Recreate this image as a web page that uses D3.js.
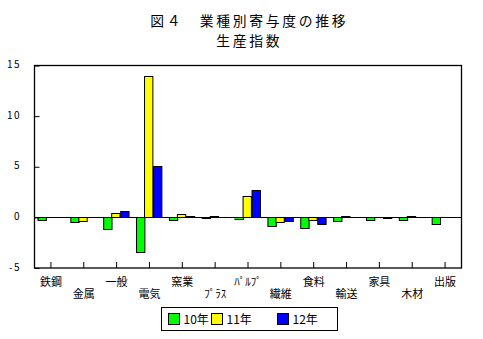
<!DOCTYPE html>
<html>
<head>
<meta charset="utf-8">
<script src="https://cdn.jsdelivr.net/npm/d3@7"></script>
<style>
  html, body { margin: 0; padding: 0; background: #fff; }
  svg { display: block; }
  text { font-family: "Noto Sans CJK JP", "Noto Sans", sans-serif; fill: #000; }
</style>
</head>
<body>
<svg id="chart" width="483" height="339"></svg>
<script>
// 業種別寄与度（生産指数）
const categories = ["鉄鋼", "金属", "一般", "電気", "窯業", "ﾌﾟﾗｽ", "ﾊﾟﾙﾌﾟ", "繊維", "食料", "輸送", "家具", "木材", "出版"];
const seriesNames = ["10年", "11年", "12年"];
const seriesColors = ["#00ff00", "#ffff00", "#0000ff"];
const values10 = [-0.3, -0.5, -1.1, -3.4, -0.3, -0.1, -0.2, -0.9, -1.05, -0.4, -0.3, -0.3, -0.7];
const values11 = [0, -0.35, 0.45, 14.0, 0.3, 0.1, 2.1, -0.5, -0.3, 0.1, 0, 0.1, 0];
const values12 = [0, 0, 0.6, 5.1, 0.1, 0, 2.75, -0.4, -0.7, 0, -0.1, 0, 0];
const yTicks = [-5, 0, 5, 10, 15];
const titleLines = ["図４　業種別寄与度の推移", "生産指数"];

const seriesValues = [values10, values11, values12];

const svg = d3.select("#chart");
const plotLeft = 34.5, plotRight = 461.5, plotTop = 65.5, plotBottom = 268;

const x = d3.scaleBand().domain(categories).range([plotLeft, plotRight]).paddingInner(0).paddingOuter(0);
const groupW = 25;
const x1 = d3.scaleBand().domain(seriesNames)
  .range([(x.bandwidth() - groupW) / 2 - 1, (x.bandwidth() + groupW) / 2 - 1]);
const y = d3.scaleLinear().domain([-5, 15]).range([plotBottom, plotTop]);

// Title (two lines)
svg.append("g").selectAll("text").data(titleLines).join("text")
  .attr("x", 249.3).attr("y", (d, i) => 25.5 + i * 20)
  .attr("text-anchor", "middle")
  .style("font-size", "13.8px")
  .style("letter-spacing", "2.7px")
  .text(d => d);

// Bars
const rows = categories.map((c, i) => ({ cat: c, vals: seriesValues.map(s => s[i]) }));
const groups = svg.append("g").selectAll("g").data(rows).join("g")
  .attr("transform", d => `translate(${x(d.cat)},0)`);
groups.selectAll("rect")
  .data(d => d.vals.map((v, k) => ({ v, k })).filter(e => e.v !== 0))
  .join("rect")
  .attr("x", e => Math.round(x1(seriesNames[e.k])) + 0.5)
  .attr("width", x1.bandwidth())
  .attr("y", e => Math.round(y(Math.max(0, e.v))) + 0.5)
  .attr("height", e => Math.max(0.01, Math.abs(Math.round(y(e.v)) - Math.round(y(0)))))
  .attr("fill", e => seriesColors[e.k])
  .attr("stroke", "#000")
  .attr("stroke-width", 1);

// Frame and zero line
svg.append("rect")
  .attr("x", plotLeft).attr("y", plotTop)
  .attr("width", plotRight - plotLeft).attr("height", plotBottom - plotTop)
  .attr("fill", "none").attr("stroke", "#000").attr("stroke-width", 1.3);
svg.append("line")
  .attr("x1", plotLeft).attr("x2", plotRight)
  .attr("y1", Math.round(y(0)) + 0.5).attr("y2", Math.round(y(0)) + 0.5)
  .attr("stroke", "#000").attr("stroke-width", 1);

// Y axis (ticks pointing inward)
const yAxis = svg.append("g").attr("transform", `translate(${plotLeft},0)`)
  .call(d3.axisRight(y).tickValues(yTicks).tickSize(5).tickFormat(""));
yAxis.select(".domain").remove();
yAxis.selectAll("line").attr("stroke", "#000");
svg.append("g").selectAll("text").data(yTicks).join("text")
  .attr("x", 21).attr("y", d => y(d))
  .attr("text-anchor", "end")
  .attr("dominant-baseline", "middle")
  .style("font-size", "10px")
  .style("letter-spacing", "1.5px")
  .text(d => d);

// X axis: ticks at category centers, pointing up
const xAxis = svg.append("g").attr("transform", `translate(0,${plotBottom})`)
  .call(d3.axisTop(x).tickSize(6).tickFormat(""));
xAxis.select(".domain").remove();
xAxis.selectAll("line").attr("stroke", "#000");
svg.append("g").selectAll("text").data(categories).join("text")
  .attr("x", d => x(d) + x.bandwidth() / 2)
  .attr("y", (d, i) => i % 2 === 0 ? 286 : 298)
  .attr("text-anchor", "middle")
  .style("font-size", "11px")
  .text(d => d);

// Legend
const legend = svg.append("g");
legend.append("rect")
  .attr("x", 161.5).attr("y", 307.5).attr("width", 176).attr("height", 23)
  .attr("fill", "#fff").attr("stroke", "#000").attr("stroke-width", 1);
const legendX = [168.5, 211.5, 277.5];
const items = legend.selectAll("g").data(seriesNames).join("g")
  .attr("transform", (d, i) => `translate(${legendX[i]},313.5)`);
items.append("rect")
  .attr("width", 11).attr("height", 11)
  .attr("fill", (d, i) => seriesColors[i])
  .attr("stroke", "#000").attr("stroke-width", 1);
items.append("text")
  .attr("x", 15).attr("y", 10.5)
  .style("font-size", "12px")
  .text(d => d);
</script>
</body>
</html>
